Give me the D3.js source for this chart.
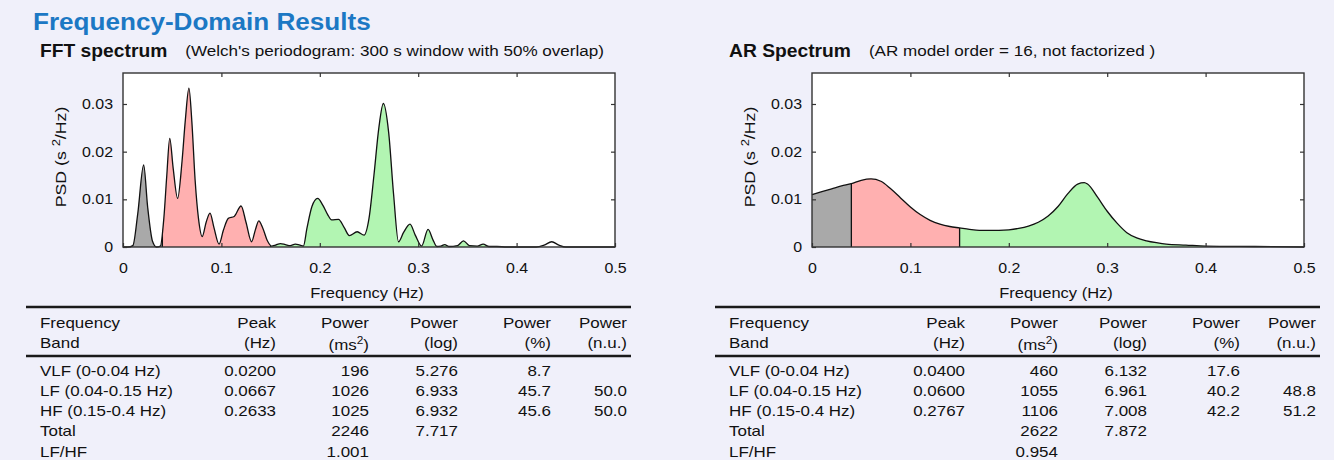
<!DOCTYPE html>
<html>
<head>
<meta charset="utf-8">
<script src="https://cdn.jsdelivr.net/npm/d3@7"></script>
<style>
  body { margin: 0; background: #f0f0fa; }
  text { font-family: "Liberation Sans", Arial, sans-serif; fill: #111; }
</style>
</head>
<body>
<script>
// ---- data ----
const bandEdges = [0, 0.04, 0.15, 0.4];
const bandColors = ["#a9a9a9", "#ffb0b0", "#b2f5b2"];

const fftFreq = [0, 0.005, 0.010, 0.015, 0.021, 0.025, 0.030, 0.034, 0.0380, 0.0415, 0.0445, 0.0475, 0.0510, 0.0555,
  0.0600, 0.0633, 0.0670, 0.0700, 0.0733, 0.0767, 0.0805, 0.0845, 0.0884, 0.0925, 0.0976, 0.1020, 0.1070, 0.1130,
  0.1200, 0.1250, 0.1307, 0.1345, 0.1380, 0.1420, 0.1470, 0.1510, 0.1550, 0.1600, 0.1650, 0.1700, 0.1750, 0.1800,
  0.1833, 0.1870, 0.1920, 0.1978, 0.2030, 0.2080, 0.2120, 0.2190, 0.2250, 0.2300, 0.2380, 0.2450, 0.2500, 0.2550,
  0.2600, 0.2646, 0.2700, 0.2750, 0.2800, 0.2850, 0.2917, 0.2970, 0.3035, 0.3100, 0.3150, 0.3190, 0.3230, 0.3270,
  0.3310, 0.3400, 0.3460, 0.3520, 0.3600, 0.3660, 0.3720, 0.3800, 0.3900, 0.4000, 0.4200, 0.4280, 0.4357, 0.4430,
  0.4500, 0.5000];
const fftPsd = [0, 0, 0.0003, 0.0070, 0.0172, 0.0085, 0.0012, 0.0000, 0.0002, 0.0060, 0.0150, 0.0228, 0.0165, 0.0102,
  0.0180, 0.0265, 0.0333, 0.0262, 0.0140, 0.0060, 0.0022, 0.0052, 0.0071, 0.0040, 0.0006, 0.0035, 0.0060, 0.0064,
  0.0086, 0.0052, 0.0011, 0.0036, 0.0055, 0.0040, 0.0012, 0.0002, 0.0004, 0.0007, 0.0005, 0.0003, 0.0006, 0.0004,
  0.0002, 0.0040, 0.0085, 0.0102, 0.0088, 0.0068, 0.0057, 0.0058, 0.0040, 0.0024, 0.0032, 0.0025, 0.0060, 0.0150,
  0.0250, 0.0301, 0.0240, 0.0110, 0.0011, 0.0030, 0.0048, 0.0025, 0.0002, 0.0037, 0.0015, 0.0001, 0.0002, 0.0005,
  0.0001, 0.0003, 0.0013, 0.0003, 0.0002, 0.0006, 0.0001, 0.0001, 0.0000, 0.0000, 0.0000, 0.0004, 0.0011, 0.0004,
  0.0000, 0.0000];

const arFreq = [0, 0.01, 0.02, 0.03, 0.04, 0.05, 0.06, 0.07, 0.08, 0.09, 0.10, 0.11, 0.12, 0.13, 0.14, 0.15, 0.16,
  0.17, 0.18, 0.19, 0.20, 0.21, 0.22, 0.23, 0.24, 0.25, 0.26, 0.27, 0.2767, 0.28, 0.29, 0.30, 0.31, 0.32, 0.33, 0.34,
  0.35, 0.36, 0.38, 0.40, 0.45, 0.50];
const arPsd = [0.0110, 0.0116, 0.0122, 0.0128, 0.0133, 0.0140, 0.0143, 0.0138, 0.0122, 0.0103, 0.0084, 0.0068, 0.0056,
  0.0048, 0.0043, 0.0040, 0.0037, 0.0035, 0.0035, 0.0035, 0.0036, 0.0039, 0.0044, 0.0052, 0.0065, 0.0085, 0.0112,
  0.0132, 0.0135, 0.0132, 0.0105, 0.0075, 0.0050, 0.0030, 0.0019, 0.0013, 0.0009, 0.0006, 0.0004, 0.0002, 0.0001, 0];

const xTicks = [0, 0.1, 0.2, 0.3, 0.4, 0.5];
const yTicks = [0, 0.01, 0.02, 0.03];

const headTop = ["Frequency", "Peak", "Power", "Power", "Power", "Power"];
const headBottom = ["Band", "(Hz)", "(ms|2|)", "(log)", "(%)", "(n.u.)"];
const bandNames = ["VLF (0-0.04 Hz)", "LF (0.04-0.15 Hz)", "HF (0.15-0.4 Hz)", "Total", "LF/HF"];

const fftPeak = ["0.0200", "0.0667", "0.2633", "", ""];
const fftMs2 = ["196", "1026", "1025", "2246", "1.001"];
const fftLog = ["5.276", "6.933", "6.932", "7.717", ""];
const fftPct = ["8.7", "45.7", "45.6", "", ""];
const fftNu = ["", "50.0", "50.0", "", ""];

const arPeak = ["0.0400", "0.0600", "0.2767", "", ""];
const arMs2 = ["460", "1055", "1106", "2622", "0.954"];
const arLog = ["6.132", "6.961", "7.008", "7.872", ""];
const arPct = ["17.6", "40.2", "42.2", "", ""];
const arNu = ["", "48.8", "51.2", "", ""];

const panels = [
  {ox: 0, name: "FFT spectrum", sub: "(Welch's periodogram: 300 s window with 50% overlap)",
   freq: fftFreq, psd: fftPsd, cols: [bandNames, fftPeak, fftMs2, fftLog, fftPct, fftNu]},
  {ox: 689, name: "AR Spectrum", sub: "(AR model order = 16, not factorized )",
   freq: arFreq, psd: arPsd, cols: [bandNames, arPeak, arMs2, arLog, arPct, arNu]}
];

// ---- drawing ----
const SX = 1.1; // the reference text is a bit wider than Arial
const svg = d3.select("body").append("svg").attr("width", 1334).attr("height", 460);
const defs = svg.append("defs");

function stretch(sel, k) {
  k = k || SX;
  sel.each(function () {
    const len = this.getComputedTextLength();
    if (len > 0) d3.select(this).attr("textLength", len * k).attr("lengthAdjust", "spacingAndGlyphs");
  });
}

svg.append("text")
  .attr("x", 33).attr("y", 30)
  .style("font-size", "23.5px").style("font-weight", "bold").style("fill", "#1c78c4")
  .text("Frequency-Domain Results")
  .call(stretch, 1.11);

const colRight = [0, 276, 369, 458, 551, 627];

panels.forEach((p, pi) => {
  const g = svg.append("g");
  const x = d3.scaleLinear().domain([0, 0.5]).range([123 + p.ox, 615 + p.ox]);
  const y = d3.scaleLinear().domain([0, 0.0365]).range([247, 73]);
  const data = p.freq.map((f, i) => ({f: f, v: p.psd[i]}));

  // heading
  const head = g.append("text").attr("x", 40 + p.ox).attr("y", 57)
    .style("font-size", "17.5px").style("font-weight", "bold").text(p.name).call(stretch);
  const hw = +head.attr("textLength");
  g.append("text").attr("x", 40 + p.ox + hw + 18).attr("y", 56)
    .style("font-size", "14px").text(p.sub).call(stretch, 1.22);

  // plot background
  g.append("rect").attr("x", x(0)).attr("y", y.range()[1])
    .attr("width", x(0.5) - x(0)).attr("height", y(0) - y.range()[1])
    .attr("fill", "#fff");

  const area = d3.area().x(d => x(d.f)).y0(y(0)).y1(d => y(d.v)).curve(d3.curveMonotoneX);
  const line = d3.line().x(d => x(d.f)).y(d => y(d.v)).curve(d3.curveMonotoneX);

  // band fills, each clipped to its frequency range
  bandColors.forEach((c, bi) => {
    const id = "band" + pi + "_" + bi;
    defs.append("clipPath").attr("id", id).append("rect")
      .attr("x", x(bandEdges[bi])).attr("y", 0)
      .attr("width", x(bandEdges[bi + 1]) - x(bandEdges[bi])).attr("height", 460);
    g.append("path").datum(data).attr("d", area).attr("fill", c).attr("clip-path", "url(#" + id + ")");
  });

  // band separators, clipped to the area under the curve
  const aid = "under" + pi;
  defs.append("clipPath").attr("id", aid).append("path").datum(data).attr("d", area);
  g.selectAll(".sep").data(bandEdges.slice(1, 3)).join("line")
    .attr("x1", d => x(d)).attr("x2", d => x(d))
    .attr("y1", y.range()[1]).attr("y2", y(0))
    .attr("stroke", "#111").attr("stroke-width", 1.3)
    .attr("clip-path", "url(#" + aid + ")");

  g.append("path").datum(data).attr("d", line)
    .attr("fill", "none").attr("stroke", "#111").attr("stroke-width", 1.3);

  // axes with inward ticks
  g.append("g").attr("transform", "translate(0," + y(0) + ")")
    .call(d3.axisBottom(x).tickValues(xTicks).tickSizeInner(-4).tickSizeOuter(0).tickPadding(16)
      .tickFormat(d => d === 0 ? "0" : d3.format(".1f")(d)));
  g.append("g").attr("transform", "translate(" + x(0) + ",0)")
    .call(d3.axisLeft(y).tickValues(yTicks).tickSizeInner(-4).tickSizeOuter(0).tickPadding(10)
      .tickFormat(d => d === 0 ? "0" : d3.format(".2f")(d)));
  g.append("g").attr("transform", "translate(0," + y.range()[1] + ")")
    .call(d3.axisTop(x).tickValues(xTicks.slice(1, 5)).tickSizeInner(-4).tickSizeOuter(0).tickFormat(""));
  g.append("g").attr("transform", "translate(" + x(0.5) + ",0)")
    .call(d3.axisRight(y).tickValues(yTicks.slice(1)).tickSizeInner(-4).tickSizeOuter(0).tickFormat(""));
  g.selectAll(".domain").remove();
  g.selectAll(".tick line").attr("stroke", "#333").attr("stroke-width", 1.2);
  g.selectAll(".tick text").style("font-size", "14.5px").attr("fill", "#111").style("font-family", null).call(stretch);

  g.append("rect").attr("x", x(0)).attr("y", y.range()[1])
    .attr("width", x(0.5) - x(0)).attr("height", y(0) - y.range()[1])
    .attr("fill", "none").attr("stroke", "#333").attr("stroke-width", 1.4);

  g.append("text").attr("x", (x(0) + x(0.5)) / 2 - 2).attr("y", 298).attr("text-anchor", "middle")
    .style("font-size", "15px").text("Frequency (Hz)").call(stretch);

  const yl = g.append("text").attr("text-anchor", "middle").style("font-size", "15px")
    .attr("transform", "translate(" + (66 + p.ox) + ",157) rotate(-90)");
  yl.append("tspan").text("PSD (s ");
  yl.append("tspan").attr("dy", -6).style("font-size", "11px").text("2");
  yl.append("tspan").attr("dy", 6).text("/Hz)");
  yl.call(stretch, 1.18);

  // table
  const t = svg.append("g");
  const lx0 = 26 + p.ox, lx1 = 631 + p.ox;
  [307, 356].forEach(ly => t.append("line").attr("x1", lx0).attr("x2", lx1).attr("y1", ly).attr("y2", ly)
    .attr("stroke", "#1a1a1a").attr("stroke-width", 2.4));

  function cell(txt, ci, cy) {
    const el = t.append("text").attr("y", cy).style("font-size", "15px")
      .attr("x", ci === 0 ? 40 + p.ox : colRight[ci] + p.ox)
      .attr("text-anchor", ci === 0 ? "start" : "end");
    const parts = txt.split("|");
    el.append("tspan").text(parts[0]);
    if (parts.length > 1) {
      el.append("tspan").attr("dy", -6).style("font-size", "10.5px").text(parts[1]);
      el.append("tspan").attr("dy", 6).text(parts[2]);
      el.attr("y", cy + 2);
    }
    el.call(stretch, 1.13);
  }
  headTop.forEach((h, ci) => cell(h, ci, 328));
  headBottom.forEach((h, ci) => cell(h, ci, 348));
  p.cols.forEach((col, ci) => col.forEach((v, ri) => { if (v !== "") cell(v, ci, 375.5 + ri * 20.3); }));
});
</script>
</body>
</html>
